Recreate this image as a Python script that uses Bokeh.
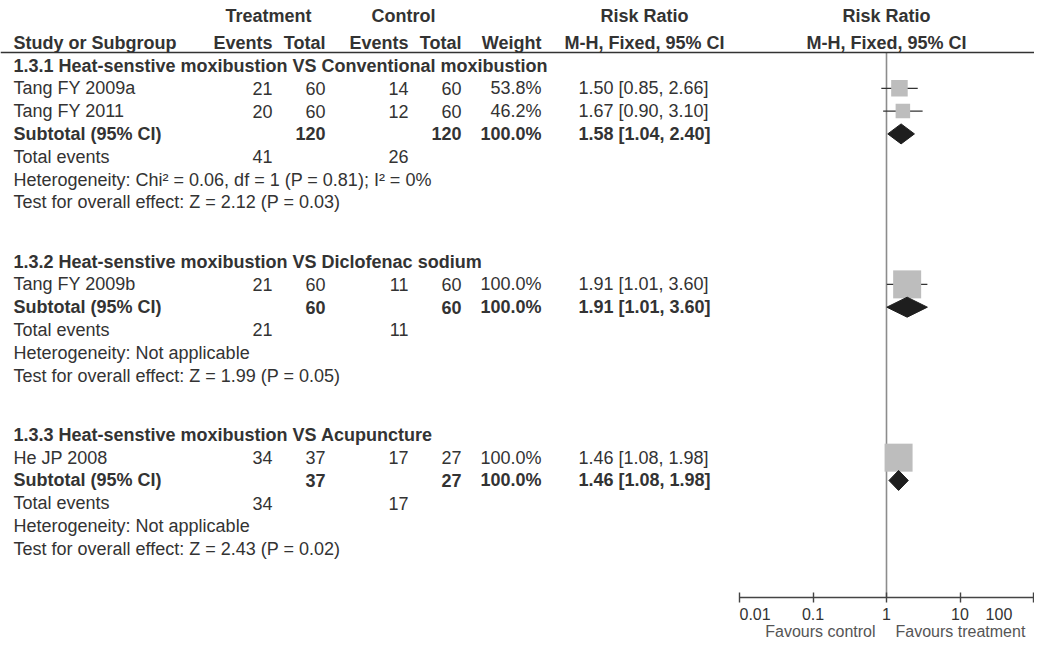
from bokeh.plotting import figure
from bokeh.models import (Range1d, LogScale, LogAxis, FixedTicker, Span, Label,
                          ColumnDataSource)
from bokeh.embed import file_html
from bokeh.resources import INLINE
from bokeh.core.properties import value

# ---------------- data ----------------
group_titles = [
    "1.3.1 Heat-senstive moxibustion VS Conventional moxibustion",
    "1.3.2 Heat-senstive moxibustion VS Diclofenac sodium",
    "1.3.3 Heat-senstive moxibustion VS Acupuncture",
]
study_names = [["Tang FY 2009a", "Tang FY 2011"], ["Tang FY 2009b"], ["He JP 2008"]]
t_events = [[21, 20], [21], [34]]
t_total = [[60, 60], [60], [37]]
c_events = [[14, 12], [11], [17]]
c_total = [[60, 60], [60], [27]]
weights = [[53.8, 46.2], [100.0], [100.0]]
rr = [[1.50, 1.67], [1.91], [1.46]]
rr_lo = [[0.85, 0.90], [1.01], [1.08]]
rr_hi = [[2.66, 3.10], [3.60], [1.98]]
sub_rr = [1.58, 1.91, 1.46]
sub_lo = [1.04, 1.01, 1.08]
sub_hi = [2.40, 3.60, 1.98]
heterogeneity = [
    "Heterogeneity: Chi\u00b2 = 0.06, df = 1 (P = 0.81); I\u00b2 = 0%",
    "Heterogeneity: Not applicable",
    "Heterogeneity: Not applicable",
]
overall_effect = [
    "Test for overall effect: Z = 2.12 (P = 0.03)",
    "Test for overall effect: Z = 1.99 (P = 0.05)",
    "Test for overall effect: Z = 2.43 (P = 0.02)",
]
tick_values = [0.01, 0.1, 1, 10, 100]
tick_labels = ["0.01", "0.1", "1", "10", "100"]
favours = ["Favours control", "Favours treatment"]

# ---------------- layout ----------------
FONT = value("Liberation Sans")
FS = "18px"
TXT = "#333333"
X0, X1 = 8, 1042
Y_TOP, Y_BOTTOM, Y_AXIS = 8, 650, 605
COL_STUDY = 21
COL_TE, COL_TT, COL_CE, COL_CT, COL_W = 280, 333, 416, 469, 549
COL_RR = 586
COL_RR_HEAD = 652
X_TREAT, X_CTRL = 276, 411
Y_HEAD1, Y_HEAD2, Y_RULE = 23, 50, 60
ROW0, STEP, GROUP_GAP = 73, 22.8, 2.6
DEC_PX, X_ONE = 73.5, 894
Y_FAV = 639

rr_start = 10 ** ((X0 - X_ONE) / DEC_PX)
rr_end = 10 ** ((X1 - X_ONE) / DEC_PX)

p = figure(width=1034, height=642, x_range=Range1d(X0, X1),
           y_range=Range1d(Y_BOTTOM, Y_TOP), output_backend="svg",
           toolbar_location=None, min_border_left=0, min_border_right=0,
           min_border_top=0, min_border_bottom=0,
           x_axis_location=None, y_axis_location=None)
p.outline_line_color = None
p.xgrid.grid_line_color = None
p.ygrid.grid_line_color = None
p.background_fill_color = "white"
p.border_fill_color = "white"
p.extra_x_ranges = {"rr": Range1d(rr_start, rr_end)}
p.extra_x_scales = {"rr": LogScale()}

styles = {k: dict(x=[], y=[], text=[]) for k in
          ["ln", "lb", "rn", "rb", "cb"]}


def put(style, x, y, t):
    styles[style]["x"].append(x)
    styles[style]["y"].append(y)
    styles[style]["text"].append(str(t))


# header
put("cb", X_TREAT, Y_HEAD1, "Treatment")
put("cb", X_CTRL, Y_HEAD1, "Control")
put("cb", COL_RR_HEAD, Y_HEAD1, "Risk Ratio")
put("lb", COL_STUDY, Y_HEAD2, "Study or Subgroup")
put("rb", COL_TE, Y_HEAD2, "Events")
put("rb", COL_TT, Y_HEAD2, "Total")
put("rb", COL_CE, Y_HEAD2, "Events")
put("rb", COL_CT, Y_HEAD2, "Total")
put("rb", COL_W, Y_HEAD2, "Weight")
put("cb", COL_RR_HEAD, Y_HEAD2, "M-H, Fixed, 95% CI")

sq_x, sq_y, sq_s, wl, wh = [], [], [], [], []
dia_xs, dia_ys = [], []


def row_y(kk):
    return ROW0 + kk * STEP


k = 0.0
for g in range(len(group_titles)):
    put("lb", COL_STUDY, row_y(k), group_titles[g])
    for i, name in enumerate(study_names[g]):
        yy = row_y(k + 1 + i)
        put("ln", COL_STUDY, yy, name)
        put("rn", COL_TE, yy, t_events[g][i])
        put("rn", COL_TT, yy, t_total[g][i])
        put("rn", COL_CE, yy, c_events[g][i])
        put("rn", COL_CT, yy, c_total[g][i])
        put("rn", COL_W, yy, f"{weights[g][i]:.1f}%")
        put("ln", COL_RR, yy,
            f"{rr[g][i]:.2f} [{rr_lo[g][i]:.2f}, {rr_hi[g][i]:.2f}]")
        sq_x.append(rr[g][i]); sq_y.append(yy)
        sq_s.append(28 * (weights[g][i] / 100) ** 0.85)
        wl.append(rr_lo[g][i]); wh.append(rr_hi[g][i])
    n = len(study_names[g])
    ys = row_y(k + n + 1)
    put("lb", COL_STUDY, ys, "Subtotal (95% CI)")
    put("rb", COL_TT, ys, sum(t_total[g]))
    put("rb", COL_CT, ys, sum(c_total[g]))
    put("rb", COL_W, ys, f"{sum(weights[g]):.1f}%")
    put("lb", COL_RR, ys, f"{sub_rr[g]:.2f} [{sub_lo[g]:.2f}, {sub_hi[g]:.2f}]")
    dia_xs.append([sub_lo[g], sub_rr[g], sub_hi[g], sub_rr[g]])
    dia_ys.append([ys, ys - 10, ys, ys + 10])
    yt = row_y(k + n + 2)
    put("ln", COL_STUDY, yt, "Total events")
    put("rn", COL_TE, yt, sum(t_events[g]))
    put("rn", COL_CE, yt, sum(c_events[g]))
    put("ln", COL_STUDY, row_y(k + n + 3), heterogeneity[g])
    put("ln", COL_STUDY, row_y(k + n + 4), overall_effect[g])
    k = k + n + 4 + GROUP_GAP

spec = {"ln": ("left", "normal"), "lb": ("left", "bold"),
        "rn": ("right", "normal"), "rb": ("right", "bold"),
        "cb": ("center", "bold")}
for key, (al, st) in spec.items():
    p.text(x="x", y="y", text="text", source=ColumnDataSource(styles[key]),
           text_align=al, text_baseline="middle", text_font=FONT,
           text_font_size=FS, text_font_style=st, text_color=TXT)

# right header over the plot
hdr = ColumnDataSource(dict(x=[1, 1], y=[Y_HEAD1, Y_HEAD2],
                            text=["Risk Ratio", "M-H, Fixed, 95% CI"]))
p.text(x="x", y="y", text="text", source=hdr, x_range_name="rr",
       text_align="center", text_baseline="middle", text_font=FONT,
       text_font_size=FS, text_font_style="bold", text_color=TXT)

# header rule
p.add_layout(Span(location=Y_RULE, dimension="width", line_color="#333333",
                  line_width=1.3))

# line of no effect
p.segment(x0=[1], x1=[1], y0=[Y_RULE], y1=[Y_AXIS], x_range_name="rr",
          line_color="#8c8c8c", line_width=1.6)

# whiskers, squares, diamonds
p.segment(x0=wl, x1=wh, y0=sq_y, y1=sq_y, x_range_name="rr",
          line_color="#333333", line_width=1.3)
p.scatter(x=sq_x, y=sq_y, size=sq_s, marker="square", x_range_name="rr",
          fill_color="#bdbdbd", line_color=None)
p.patches(xs=dia_xs, ys=dia_ys, x_range_name="rr", fill_color="#1e1e1e",
          line_color="#1e1e1e", line_width=1)

# axis (drawn inside the frame at a fixed location)
nb = "\u00a0"
overrides = {}
for t, lab in zip(tick_values, tick_labels):
    if lab == "0.01":
        lab = nb * 7 + lab
    elif lab == "100":
        lab = lab + nb * 5
    overrides[t] = lab
axis = LogAxis(x_range_name="rr", fixed_location=Y_AXIS,
               ticker=FixedTicker(ticks=tick_values, minor_ticks=[]),
               bounds=(0.01, 100), major_label_overrides=overrides,
               axis_line_color="#444444", axis_line_width=1.4,
               major_tick_line_color="#444444", major_tick_line_width=1.4,
               major_tick_in=5, major_tick_out=5, minor_tick_line_color=None,
               major_label_text_font="Liberation Sans",
               major_label_text_font_size="16px", major_label_text_color=TXT,
               major_label_standoff=3)
p.add_layout(axis, "below")

p.add_layout(Label(x=1, y=Y_FAV, x_range_name="rr", x_offset=-11,
                   text=favours[0], text_align="right",
                   text_baseline="middle", text_font="Liberation Sans",
                   text_font_size="16px", text_color="#555555"))
p.add_layout(Label(x=1, y=Y_FAV, x_range_name="rr", x_offset=9,
                   text=favours[1], text_align="left",
                   text_baseline="middle", text_font="Liberation Sans",
                   text_font_size="16px", text_color="#555555"))

open("out.html", "w").write(file_html(p, INLINE))
